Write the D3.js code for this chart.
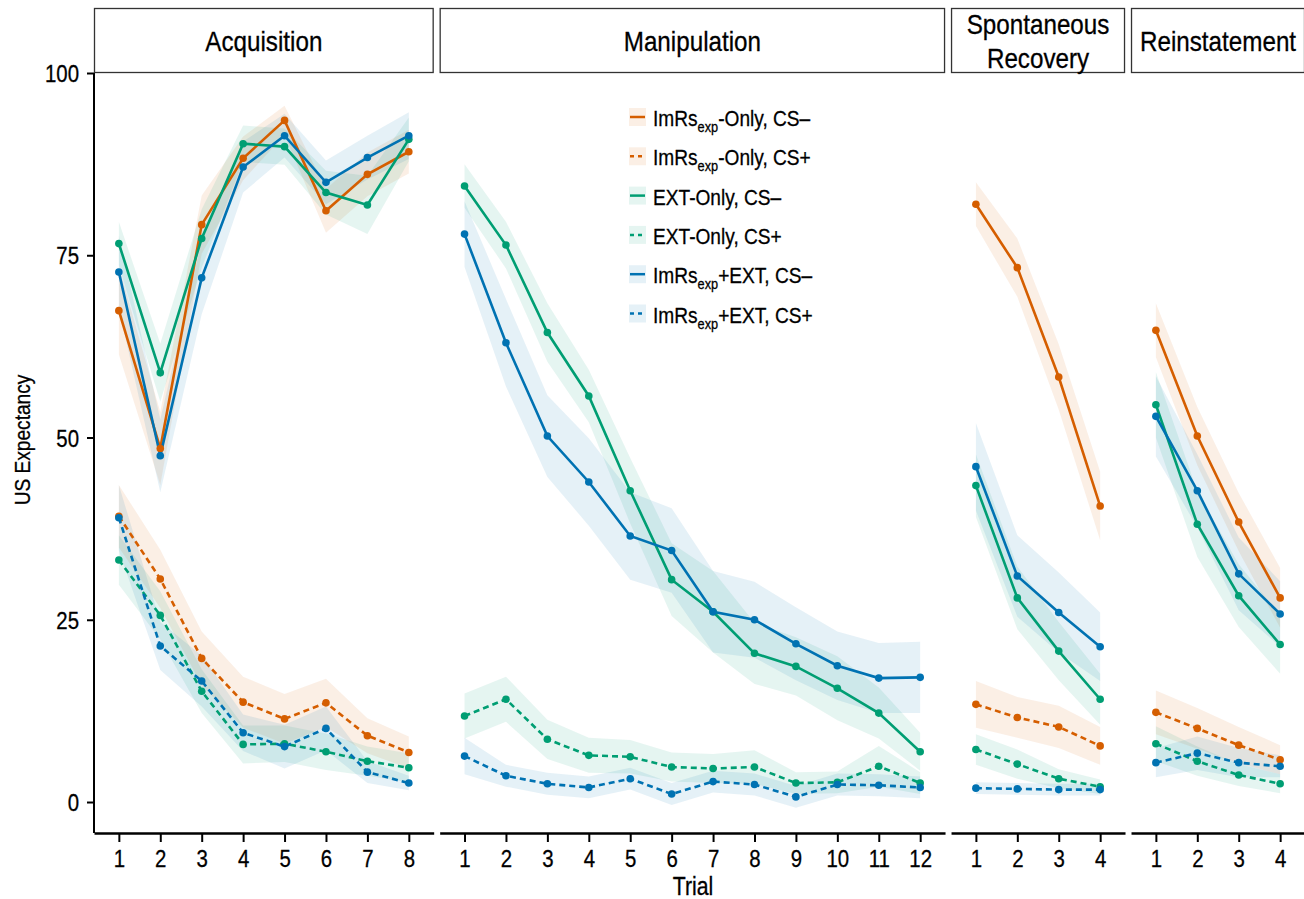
<!DOCTYPE html>
<html>
<head>
<meta charset="utf-8">
<script src="https://cdn.jsdelivr.net/npm/d3@7"></script>
<style>
  body { margin: 0; background: #fff; }
  svg text { font-family: "Liberation Sans", Arial, sans-serif; fill: #000; stroke: #000; stroke-width: 0.3; }
</style>
</head>
<body>
<svg id="chart" width="1304" height="899"></svg>
<script>
// phases (facets) and number of trials in each
const phaseLabels = [['Acquisition'], ['Manipulation'], ['Spontaneous', 'Recovery'], ['Reinstatement']];
const trialCounts = [8, 12, 4, 4];
const yTicks = [0, 25, 50, 75, 100];

// mean US expectancy, one inner array per phase (Acq, Manip, SR, Reinst)
const imrsOnlyMinus = [[67.4, 48.5, 79.2, 88.3, 93.5, 81.1, 86.1, 89.2], [], [82.0, 73.3, 58.3, 40.6], [64.7, 50.2, 38.4, 28.0]];
const imrsOnlyPlus = [[39.2, 30.6, 19.7, 13.7, 11.4, 13.6, 9.1, 6.8], [], [13.4, 11.6, 10.3, 7.7], [12.3, 10.1, 7.8, 5.8]];
const extOnlyMinus = [[76.6, 58.9, 77.3, 90.3, 89.9, 83.6, 81.9, 90.9],
  [84.5, 76.4, 64.4, 55.7, 42.7, 30.5, 26.1, 20.4, 18.6, 15.6, 12.2, 6.9], [43.4, 28.0, 20.7, 14.1], [54.5, 38.1, 28.3, 21.6]];
const extOnlyPlus = [[33.2, 25.6, 15.2, 7.9, 8.0, 6.9, 5.6, 4.7],
  [11.8, 14.1, 8.6, 6.4, 6.2, 4.8, 4.6, 4.8, 2.6, 2.7, 4.9, 2.6], [7.2, 5.2, 3.2, 2.1], [8.0, 5.6, 3.7, 2.5]];
const bothMinus = [[72.7, 47.5, 71.9, 87.1, 91.4, 85.0, 88.4, 91.4],
  [77.9, 63.0, 50.2, 43.9, 36.5, 34.5, 26.1, 25.0, 21.7, 18.7, 17.0, 17.1], [46.0, 31.0, 26.0, 21.3], [52.9, 42.7, 31.3, 25.8]];
const bothPlus = [[39.0, 21.4, 16.6, 9.5, 7.6, 10.1, 4.1, 2.6],
  [6.3, 3.6, 2.5, 2.0, 3.2, 1.1, 2.8, 2.4, 0.7, 2.4, 2.3, 2.0], [1.9, 1.8, 1.7, 1.7], [5.4, 6.7, 5.4, 4.9]];

// standard errors (ribbon half widths)
const imrsOnlyMinusSE = [[6, 5, 4, 3, 2, 3, 3, 3], [], [3, 4, 4.5, 4.7], [3.7, 4, 4, 4.1]];
const imrsOnlyPlusSE = [[4.3, 4, 3.7, 3.5, 3.4, 3.3, 2.4, 2.2], [], [3.2, 2.8, 2.9, 2.6], [3, 2.8, 2.5, 2]];
const extOnlyMinusSE = [[3, 4, 4, 2.5, 2.5, 3, 4, 3],
  [3, 3.2, 4, 3.6, 4.5, 5, 5.6, 4.2, 4, 4.4, 3.5, 2.6], [4.3, 4.3, 4, 3.5], [4.5, 4.5, 4.3, 4]];
const extOnlyPlusSE = [[3.4, 3.3, 3, 2.6, 2.5, 2.5, 2, 2],
  [3.1, 3.1, 2.7, 2.4, 2.3, 2, 2, 2.3, 1.5, 1.5, 2.8, 1.5], [2.1, 2, 1.3, 1], [2.4, 2, 1.5, 1.3]];
const bothMinusSE = [[5, 5, 5, 3.5, 3, 3, 3, 3.2],
  [4.5, 6, 5.6, 6, 6, 5.8, 5.6, 5.2, 5, 4.7, 4.8, 4.9], [6, 5.6, 5.5, 4.7], [5.5, 5, 5, 4.5]];
const bothPlusSE = [[4.5, 3.3, 3.5, 2.5, 3, 3, 1.5, 1],
  [2.5, 1.5, 1.5, 1.5, 1.5, 1.5, 1.5, 1.5, 1.5, 1.5, 1.5, 1.5], [0.8, 0.8, 0.8, 0.8], [2, 2.3, 2, 1.5]];

const series = [
  { label: ['ImRs', 'exp', '-Only, CS\u2013'], color: '#D55E00', dashed: false, mean: imrsOnlyMinus, se: imrsOnlyMinusSE },
  { label: ['ImRs', 'exp', '-Only, CS+'], color: '#D55E00', dashed: true, mean: imrsOnlyPlus, se: imrsOnlyPlusSE },
  { label: ['EXT-Only, CS\u2013', '', ''], color: '#009E73', dashed: false, mean: extOnlyMinus, se: extOnlyMinusSE },
  { label: ['EXT-Only, CS+', '', ''], color: '#009E73', dashed: true, mean: extOnlyPlus, se: extOnlyPlusSE },
  { label: ['ImRs', 'exp', '+EXT, CS\u2013'], color: '#0072B2', dashed: false, mean: bothMinus, se: bothMinusSE },
  { label: ['ImRs', 'exp', '+EXT, CS+'], color: '#0072B2', dashed: true, mean: bothPlus, se: bothPlusSE }
];

var svg = d3.select('#chart');
var plotLeft = 94, plotRight = 1305, plotTop = 73, plotBottom = 833, gap = 6, stripTop = 8;
var narrow = 0.85; // condensed look
// each panel spans its trials plus 0.6 trial of padding on both sides
var totalUnits = d3.sum(trialCounts, n => n - 1 + 1.2);
var step = (plotRight - plotLeft - gap * (trialCounts.length - 1)) / totalUnits;

var y = d3.scaleLinear().domain([-4.25, 100]).range([plotBottom, plotTop]);

function addText(parent, x, y, str, size, rotate) {
  return parent.append('text')
    .attr('transform', 'translate(' + x + ',' + y + ')' + (rotate ? ' rotate(' + rotate + ')' : '') + ' scale(' + narrow + ',1)')
    .attr('text-anchor', 'middle')
    .attr('font-size', size)
    .text(str);
}

// y axis
svg.append('g')
  .attr('transform', 'translate(' + plotLeft + ',0)')
  .call(d3.axisLeft(y).tickValues(yTicks).tickSize(7).tickPadding(8))
  .call(g => g.select('.domain').attr('d', 'M0,' + plotTop + 'V' + plotBottom).attr('stroke-width', 2))
  .call(g => g.selectAll('.tick line').attr('stroke-width', 2))
  .call(g => g.selectAll('.tick text').attr('font-size', 24).attr('dy', '0.36em')
    .attr('x', -15 / narrow).attr('transform', 'scale(' + narrow + ',1)'));

addText(svg, 30, 440, 'US Expectancy', 22.5, -90);
addText(svg, 693, 895, 'Trial', 25);

var x0 = plotLeft;
trialCounts.forEach(function (n, p) {
  var w = (n - 1 + 1.2) * step;
  var x = d3.scaleLinear().domain([0.4, n + 0.6]).range([x0, x0 + w]);
  var trials = d3.range(1, n + 1);

  // strip header
  svg.append('rect')
    .attr('x', x0 + 0.5).attr('y', stripTop + 0.5)
    .attr('width', w - 1).attr('height', plotTop - stripTop - 1)
    .attr('fill', '#fff').attr('stroke', '#333').attr('stroke-width', 1.3);
  var lines = phaseLabels[p];
  lines.forEach(function (t, i) {
    addText(svg, x0 + w / 2, lines.length == 1 ? 51 : 34 + i * 34, t, 28.5);
  });

  // x axis
  svg.append('g')
    .attr('transform', 'translate(0,' + plotBottom + ')')
    .call(d3.axisBottom(x).tickValues(trials).tickFormat(d3.format('d')).tickSize(9).tickSizeOuter(0).tickPadding(8))
    .call(g => g.select('.domain').attr('stroke-width', 2.5))
    .call(g => g.selectAll('.tick line').attr('stroke-width', 2))
    .call(g => g.selectAll('.tick text').attr('font-size', 24).attr('transform', 'scale(' + narrow + ',1)'));

  var panel = svg.append('g');
  var area = d3.area()
    .x(d => x(d.t)).y0(d => y(d.m - d.s)).y1(d => y(d.m + d.s));
  var line = d3.line().x(d => x(d.t)).y(d => y(d.m));

  var rows = series.map(function (s) {
    return s.mean[p].map((m, i) => ({ t: i + 1, m: m, s: s.se[p][i] }));
  });

  series.forEach(function (s, i) {
    if (!rows[i].length) return;
    panel.append('path').datum(rows[i])
      .attr('d', area).attr('fill', s.color).attr('fill-opacity', 0.1);
  });
  series.forEach(function (s, i) {
    if (!rows[i].length) return;
    panel.append('path').datum(rows[i])
      .attr('d', line).attr('fill', 'none')
      .attr('stroke', s.color).attr('stroke-width', 2.6)
      .attr('stroke-dasharray', s.dashed ? '6,4' : null);
  });
  series.forEach(function (s, i) {
    panel.selectAll(null).data(rows[i]).join('circle')
      .attr('cx', d => x(d.t)).attr('cy', d => y(d.m))
      .attr('r', 3.8).attr('fill', s.color);
  });

  x0 += w + gap;
});

// legend
var legend = svg.append('g').attr('transform', 'translate(629,117)');
series.forEach(function (s, i) {
  var g = legend.append('g').attr('transform', 'translate(0,' + (i * 39.3) + ')');
  g.append('rect').attr('x', 0).attr('y', -9).attr('width', 17).attr('height', 18)
    .attr('fill', s.color).attr('fill-opacity', 0.1);
  g.append('line').attr('x1', 1).attr('x2', 16).attr('y1', 0).attr('y2', 0)
    .attr('stroke', s.color).attr('stroke-width', 2.5)
    .attr('stroke-dasharray', s.dashed ? '4,4' : null);
  var t = g.append('text')
    .attr('transform', 'translate(24,9) scale(' + narrow + ',1)')
    .attr('font-size', 22.5);
  t.append('tspan').text(s.label[0]);
  if (s.label[1]) {
    t.append('tspan').attr('font-size', 15).attr('dy', 6).text(s.label[1]);
    t.append('tspan').attr('dy', -6).text(s.label[2]);
  }
});
</script>
</body>
</html>
